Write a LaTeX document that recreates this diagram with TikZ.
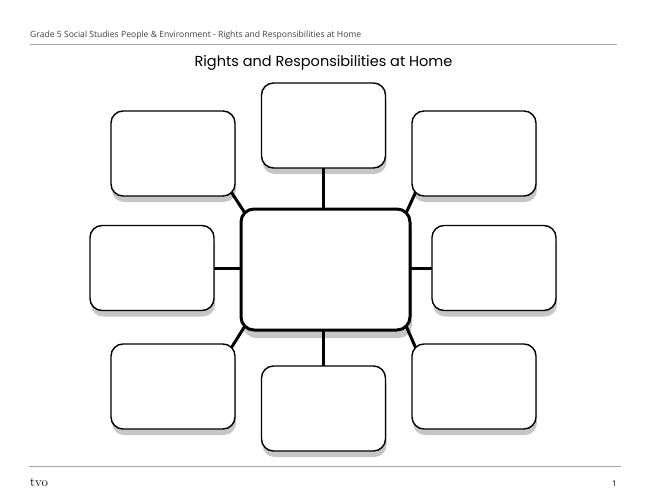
\documentclass[tikz,border=0pt]{standalone}
\usepackage{fontspec}
\setmainfont{Open Sans}
\newfontfamily\titlefont{Poppins}
\newfontfamily\logofont{Latin Modern Roman}
\usetikzlibrary{calc}
\pgfdeclarelayer{shade}
\pgfdeclarelayer{background}
\pgfsetlayers{shade,background,main}

\tikzset{
  box/.style={draw, fill=white, line width=1.4pt, rounded corners=12pt,
    minimum width=124pt, minimum height=85pt, outer sep=0pt, inner sep=0pt},
  hub/.style={box, line width=3pt, rounded corners=13pt,
    minimum width=169pt, minimum height=121pt},
  link/.style={line width=3pt},
  rule/.style={gray!70, line width=0.6pt}
}

\begin{document}
\begin{tikzpicture}[x=1pt, y=-1pt]
    \useasboundingbox (0,0) rectangle (647,500);
    % header
    \node[anchor=base west, inner sep=0pt, text=black!75, font=\fontsize{8.6}{10}\selectfont] (head) at (30,38)
      {Grade 5 Social Studies People \& Environment - Rights and Responsibilities at Home};
    \draw[rule] (30,44) -- (617,44);
    \node[font=\titlefont\fontsize{14.5}{16}\selectfont, inner sep=0pt] (title) at (323.5,63)
      {Rights and Responsibilities at Home};
    % boxes
    \node[hub] (c) at (325.5,269.5) {};
    \node[box] (top) at (323.5,125.5) {};
    \node[box] (tl) at (173,153.5) {};
    \node[box] (tr) at (474,153.5) {};
    \node[box] (ml) at (152,268) {};
    \node[box] (mr) at (494,268) {};
    \node[box] (bl) at (173,386.5) {};
    \node[box] (bc) at (323.5,408.5) {};
    \node[box] (br) at (474,386.5) {};
    % shadows
    \begin{pgfonlayer}{shade}
      \foreach \n in {top,tl,tr,ml,mr,bl,bc,br}
        \fill[gray!45, rounded corners=12pt] ([shift={(1,6)}]\n.north west) rectangle ([shift={(1,6)}]\n.south east);
      \fill[gray!45, rounded corners=13pt] ([shift={(2,8)}]c.north west) rectangle ([shift={(2,8)}]c.south east);
    \end{pgfonlayer}
    % connectors
    \begin{pgfonlayer}{background}
      \draw[link] (top.south) -- (top.south |- c.north);
      \draw[link] (bc.north) -- (bc.north |- c.south);
      \draw[link] (ml.east) -- (ml.east -| c.west);
      \draw[link] (mr.west) -- (mr.west -| c.east);
      \draw[link] ([shift={(-3.5,-3.5)}]tl.south east) -- ([shift={(3.8,3.8)}]c.north west);
      \draw[link] ([shift={(3.5,-3.5)}]tr.south west) -- ([shift={(-3.8,3.8)}]c.north east);
      \draw[link] ([shift={(-3.5,3.5)}]bl.north east) -- ([shift={(3.8,-3.8)}]c.south west);
      \draw[link] ([shift={(3.5,3.5)}]br.north west) -- ([shift={(-3.8,-3.8)}]c.south east);
    \end{pgfonlayer}
    % footer
    \draw[rule] (29,466) -- (621,466);
    \node[anchor=base west, inner sep=0pt, font=\logofont\fontsize{13}{14}\selectfont] (logo) at (30,486) {tvo};
    \node[anchor=base east, inner sep=0pt, font=\fontsize{8}{9}\selectfont] (page) at (617,486) {1};
\end{tikzpicture}
\end{document}
